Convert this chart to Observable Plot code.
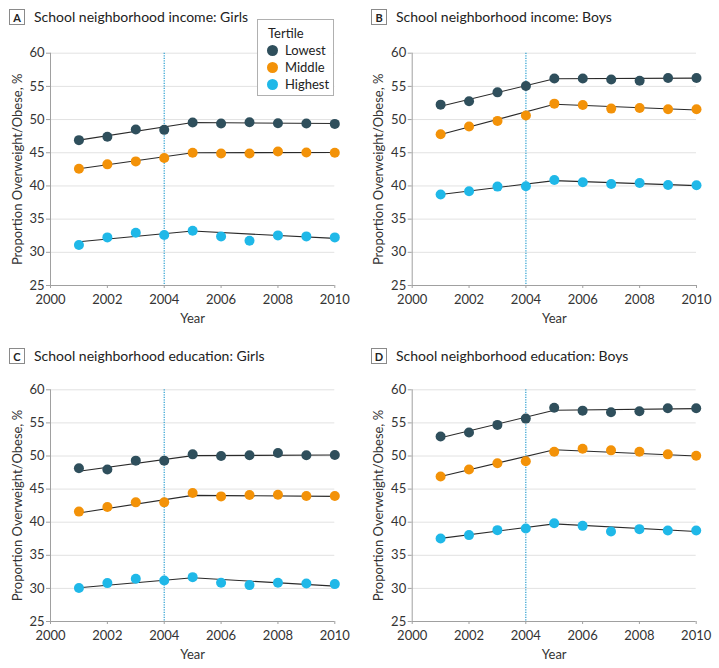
<!DOCTYPE html>
<html><head><meta charset="utf-8">
<script src="https://cdn.jsdelivr.net/npm/d3@7"></script>
<script src="https://cdn.jsdelivr.net/npm/@observablehq/plot@0.6"></script>
<style>
body{margin:0;background:#fff;font-family:Lato,"Liberation Sans",sans-serif;color:#222}
#root{position:relative;width:719px;height:668px;overflow:hidden;background:#fff}
.panel{position:absolute}
.title{position:absolute;font-size:14px;color:#222;white-space:nowrap;display:flex;align-items:center}
.lbl{display:inline-block;border:1px solid #8a8a8a;width:16px;height:16px;text-align:center;font-weight:bold;font-size:11px;line-height:16px;margin-right:9px;box-sizing:border-box}
.legend{position:absolute;left:257px;top:19px;width:77px;height:77px;border:1px solid #b0b0b0;box-sizing:border-box;background:#fff;font-size:13px;color:#222}
.legend .t{position:absolute;left:10px;top:5px}
.legend .e{position:absolute;left:9px;display:flex;align-items:center}
.legend .d{width:11px;height:11px;border-radius:50%;margin-right:7px}
</style></head>
<body><div id="root"></div>
<script>
const years = [2001,2002,2003,2004,2005,2006,2007,2008,2009,2010];
const fitYears = [2001,2005,2010];
const tertiles = ["Lowest","Middle","Highest"];
const colors = ["#2f4f5c","#f39208","#1fb8e8"];
const xTicks = [2000,2002,2004,2006,2008,2010];
const yTicks = [25,30,35,40,45,50,55,60];
const breakYear = 2004;

// Panel A: School neighborhood income: Girls
const aLowest  = [46.9,47.4,48.5,48.45,49.55,49.4,49.6,49.45,49.4,49.35];
const aMiddle  = [42.6,43.25,43.7,44.2,45.0,44.9,44.9,45.2,45.05,45.0];
const aHighest = [31.1,32.25,32.95,32.6,33.25,32.4,31.75,32.55,32.4,32.25];
const aFitLowest  = [46.9,49.55,49.4];
const aFitMiddle  = [42.6,45.0,45.05];
const aFitHighest = [31.6,33.2,32.1];

// Panel B: School neighborhood income: Boys
const bLowest  = [52.25,52.75,54.1,55.05,56.2,56.2,56.05,55.85,56.25,56.25];
const bMiddle  = [47.8,48.95,49.8,50.6,52.4,52.2,51.65,51.75,51.55,51.55];
const bHighest = [38.7,39.2,39.9,39.95,40.9,40.55,40.3,40.45,40.15,40.1];
const bFitLowest  = [52.0,56.15,56.25];
const bFitMiddle  = [47.75,52.3,51.45];
const bFitHighest = [38.7,40.8,40.05];

// Panel C: School neighborhood education: Girls
const cLowest  = [48.15,47.95,49.3,49.3,50.25,50.0,50.1,50.45,50.1,50.15];
const cMiddle  = [41.6,42.3,43.0,43.0,44.4,43.9,44.1,44.15,43.95,43.95];
const cHighest = [30.05,30.8,31.45,31.2,31.7,30.85,30.5,30.85,30.75,30.65];
const cFitLowest  = [47.7,50.05,50.15];
const cFitMiddle  = [41.4,44.05,43.9];
const cFitHighest = [30.1,31.6,30.35];

// Panel D: School neighborhood education: Boys
const dLowest  = [52.95,53.55,54.7,55.65,57.3,56.85,56.6,56.75,57.2,57.2];
const dMiddle  = [46.9,47.95,48.9,49.2,50.65,51.1,50.85,50.65,50.25,50.05];
const dHighest = [37.55,38.05,38.8,39.05,39.85,39.45,38.6,38.95,38.75,38.75];
const dFitLowest  = [52.75,56.9,57.15];
const dFitMiddle  = [46.9,50.95,50.0];
const dFitHighest = [37.55,39.75,38.6];

const panels = [
  {key:"A", title:"School neighborhood income: Girls", obs:[aLowest,aMiddle,aHighest], fit:[aFitLowest,aFitMiddle,aFitHighest],
   left:0, top:0, width:360, height:330, mt:52.7, mb:45, ml:50, mr:25.7, tx:9, ty:8, legend:true},
  {key:"B", title:"School neighborhood income: Boys", obs:[bLowest,bMiddle,bHighest], fit:[bFitLowest,bFitMiddle,bFitHighest],
   left:360, top:0, width:359, height:330, mt:52.7, mb:45, ml:51.7, mr:23, tx:11, ty:8},
  {key:"C", title:"School neighborhood education: Girls", obs:[cLowest,cMiddle,cHighest], fit:[cFitLowest,cFitMiddle,cFitHighest],
   left:0, top:330, width:360, height:338, mt:59.3, mb:47, ml:50, mr:25.7, tx:9, ty:17},
  {key:"D", title:"School neighborhood education: Boys", obs:[dLowest,dMiddle,dHighest], fit:[dFitLowest,dFitMiddle,dFitHighest],
   left:360, top:330, width:359, height:338, mt:59.3, mb:47, ml:51.7, mr:23.3, tx:11, ty:17}
];

const root = document.getElementById("root");
const FONT = "Lato, 'Liberation Sans', sans-serif";

for (const p of panels) {
  const obsData = [];
  const fitData = [];
  tertiles.forEach((t, i) => {
    years.forEach((yr, j) => obsData.push({year: yr, value: p.obs[i][j], tertile: t}));
    fitYears.forEach((yr, j) => fitData.push({year: yr, value: p.fit[i][j], tertile: t}));
  });
  const chart = Plot.plot({
    width: p.width, height: p.height,
    marginLeft: p.ml, marginRight: p.mr, marginTop: p.mt, marginBottom: p.mb,
    style: {fontFamily: FONT, fontSize: "13px", color: "#333", background: "transparent", overflow: "visible"},
    x: {domain: [2000, 2010]},
    y: {domain: [25, 60]},
    color: {domain: tertiles, range: colors},
    marks: [
      Plot.ruleY(yTicks.filter(v => v > 25), {y: d => d, stroke: "#e2e2e2", strokeWidth: 1}),
      Plot.ruleX([breakYear], {x: d => d, stroke: "#2a9fd0", strokeWidth: 1.2, strokeDasharray: "1.2,1.3"}),
      Plot.ruleY([25], {y: d => d, stroke: "#a0a0a0", strokeWidth: 1}),
      Plot.ruleX([2000], {x: d => d, stroke: "#a0a0a0", strokeWidth: 1}),
      Plot.axisX({ticks: xTicks, tickFormat: d => String(d), tickSize: 3, tickPadding: 6, stroke: "#a0a0a0",
        color: "#333", fontSize: 13, label: "Year", labelAnchor: "center", labelArrow: "none", labelOffset: 37}),
      Plot.axisY({ticks: yTicks, tickSize: 4, tickPadding: 2, stroke: "#a0a0a0", color: "#333", fontSize: 13,
        label: "Proportion Overweight/Obese, %", labelAnchor: "center", labelArrow: "none", labelOffset: 38}),
      Plot.line(fitData, {x: "year", y: "value", z: "tertile", stroke: "#2a2a2a", strokeWidth: 1.1}),
      Plot.dot(obsData, {x: "year", y: "value", fill: "tertile", r: 5, stroke: "none"})
    ]
  });
  const wrap = document.createElement("div");
  wrap.className = "panel";
  wrap.style.left = p.left + "px";
  wrap.style.top = p.top + "px";
  wrap.appendChild(chart);
  root.appendChild(wrap);

  const t = document.createElement("div");
  t.className = "title";
  t.style.left = (p.left + p.tx) + "px";
  t.style.top = (p.top + p.ty) + "px";
  const b = document.createElement("span");
  b.className = "lbl";
  b.textContent = p.key;
  const s = document.createElement("span");
  s.textContent = p.title;
  t.appendChild(b); t.appendChild(s);
  root.appendChild(t);

  if (p.legend) {
    const lg = document.createElement("div");
    lg.className = "legend";
    const tt = document.createElement("div");
    tt.className = "t"; tt.textContent = "Tertile";
    lg.appendChild(tt);
    tertiles.forEach((name, i) => {
      const e = document.createElement("div");
      e.className = "e";
      e.style.top = (22 + i * 17) + "px";
      const d = document.createElement("span");
      d.className = "d"; d.style.background = colors[i];
      const n = document.createElement("span");
      n.textContent = name;
      e.appendChild(d); e.appendChild(n);
      lg.appendChild(e);
    });
    root.appendChild(lg);
  }
}
</script></body></html>
